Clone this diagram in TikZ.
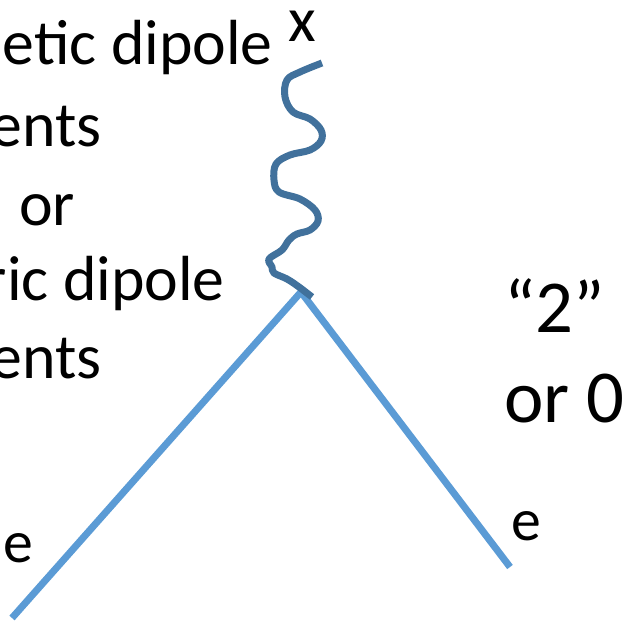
\documentclass[tikz,border=0pt]{standalone}
\usepackage{fontspec}
\setmainfont{Carlito}
\definecolor{lineblue}{HTML}{5B9BD5}
\definecolor{waveblue}{HTML}{41719C}
\begin{document}
\begin{tikzpicture}[x=1bp,y=-1bp,
  lbl/.style={inner sep=0pt,font=\fontsize{64}{77}\selectfont},
  rlbl/.style={inner sep=0pt,font=\fontsize{75}{90}\selectfont},
  elbl/.style={inner sep=0pt,font=\fontsize{60}{72}\selectfont},
  fermion/.style={draw=lineblue,line width=7bp},
  photon/.style={draw=waveblue,line width=7bp,line cap=butt,line join=round}]
\useasboundingbox (0,0) rectangle (641,627);
\clip (0,0) rectangle (641,627);
% texts
\node[lbl,anchor=base east] (t1) at (273,65) {etic dipole};
\node[lbl,anchor=base east] (t2) at (102,147) {ents};
\node[lbl,anchor=base west] (t3) at (19,225) {or};
\node[lbl,anchor=base east] (t4) at (225,300) {ric dipole};
\node[lbl,anchor=base east] (t5) at (102,378) {ents};
\node[lbl,anchor=base] (x) at (302,42) {x};
\node[rlbl,anchor=base west] (two) at (504,332) {“2”};
\node[rlbl,anchor=base west] (or0) at (504,422) {or 0};
\node[elbl,anchor=base west] (el) at (3,562) {e};
\node[elbl,anchor=base west] (er) at (511,540) {e};
% vertex and ends
\coordinate (v) at (301,292);
\coordinate (l) at (12,618);
\coordinate (r) at (510,567);
\draw[fermion] (v) -- (l);
\draw[fermion] (v) -- (r);
% wavy photon
\draw[photon] plot[smooth,tension=0.6] coordinates {
 (322,63) (300,72) (287,80) (285,97) (293,112) (310,119) (321,130) (321,141)
 (310,150) (290,155) (276,164) (274,180) (279,192) (300,199) (315,210) (318,221)
 (310,230) (297,234) (289,240) (282,250) (269,259) (272,267) (274,273) (287,279)
 (299,287) (312,297)};
\end{tikzpicture}
\end{document}
